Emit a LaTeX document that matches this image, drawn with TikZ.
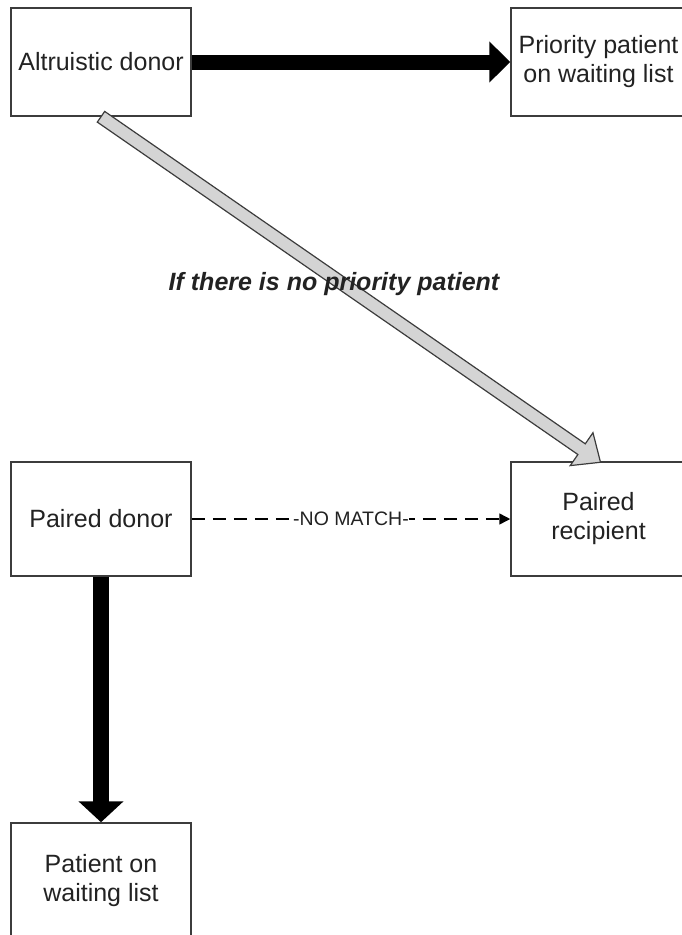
\documentclass[tikz,border=0pt]{standalone}
\usepackage{fontspec}
\setmainfont{Liberation Sans}
\usepackage{tikz}
\usetikzlibrary{arrows.meta,calc,positioning}
\definecolor{rahmen}{HTML}{3C3C3C}
\definecolor{schrift}{HTML}{222222}
\definecolor{hellgrau}{HTML}{D4D4D4}
\tikzset{
  kasten/.style={draw=rahmen,line width=1.5pt,minimum width=180pt,minimum height=108pt,
    inner sep=0pt,align=center,text=schrift,font=\fontsize{25}{29}\selectfont},
  dickpfeil/.style={line width=15pt,-{Triangle[length=21pt,width=40pt]}},
  strichpfeil/.style={line width=1.5pt,dash pattern=on 13pt off 8pt,-{Triangle[length=11pt,width=11pt]}},
}
\begin{document}
\begin{tikzpicture}[x=1pt,y=-1pt]
%Koordinaten wie Pixel im Bild: x nach rechts, y nach unten
  \useasboundingbox (0,0) rectangle (681,935);
  \pgfmathsetmacro{\schaft}{6.5}
  \pgfmathsetmacro{\kopf}{20}
  \pgfmathsetmacro{\kopflaenge}{23}
\node[kasten] (altruist) at (101,62) {Altruistic donor};
\node[kasten,minimum width=175pt] (prio) at (598.5,62) {Priority patient\\on waiting list};
\node[kasten,minimum height=114pt] (paired) at (101,519) {Paired donor};
\node[kasten,minimum width=175pt,minimum height=114pt] (recipient) at (598.5,519) {Paired\\recipient};
\node[kasten,minimum height=116pt] (waitlist) at (101,881) {Patient on\\waiting list};
\draw[dickpfeil] (altruist) -- (prio);
\draw[dickpfeil,line width=16pt,-{Triangle[length=21pt,width=44pt]}] (paired) -- (waitlist);
\draw[strichpfeil] (paired) -- node[fill=white,inner xsep=0pt,inner ysep=2pt,text=schrift,font=\fontsize{19.5}{22}\selectfont] {-NO MATCH-} (recipient);
%grauer Pfeil als Umriss, Spitze knapp unter der Oberkante
\coordinate (grauSpitze) at ($(recipient.north)+(2,1)$);
\coordinate (grauKopf) at ($(grauSpitze)!\kopflaenge pt!(altruist.south)$);
\draw[rahmen,line width=1.2pt,fill=hellgrau,line join=miter]
  ($(altruist.south)!\schaft pt!90:(grauSpitze)$) -- ($(grauKopf)!\schaft pt!90:(grauSpitze)$)
  -- ($(grauKopf)!\kopf pt!90:(grauSpitze)$) -- (grauSpitze)
  -- ($(grauKopf)!\kopf pt!-90:(grauSpitze)$) -- ($(grauKopf)!\schaft pt!-90:(grauSpitze)$)
  -- ($(altruist.south)!\schaft pt!-90:(grauSpitze)$) -- cycle;
\node[text=schrift,font=\fontsize{25}{29}\selectfont\bfseries\itshape] (bedingung) at (334,284) {If there is no priority patient};
\end{tikzpicture}
\end{document}
